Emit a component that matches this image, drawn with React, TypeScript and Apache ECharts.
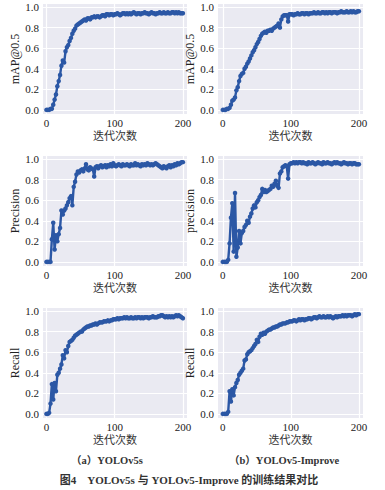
import React, { useEffect, useRef } from "react";
import * as echarts from "echarts";

const epochs: number[] = Array.from({ length: 101 }, (_, i) => i * 2);

const mapA: number[] = [
  0.0, 0.0, 0.0, 0.01, 0.01, 0.05, 0.1, 0.15, 0.23, 0.28, 0.34, 0.43, 0.48, 0.46, 0.57, 0.61, 0.63, 0.67, 0.7, 0.74,
  0.77, 0.79, 0.82, 0.83, 0.84, 0.85, 0.86, 0.87, 0.88, 0.87, 0.89, 0.89, 0.88, 0.9, 0.9, 0.91, 0.9, 0.91, 0.91, 0.9,
  0.91, 0.92, 0.92, 0.91, 0.93, 0.93, 0.92, 0.93, 0.93, 0.92, 0.93,
  0.93, 0.94, 0.93, 0.92, 0.93, 0.94, 0.94, 0.93, 0.94, 0.93, 0.94, 0.93, 0.94, 0.95, 0.94, 0.93, 0.94, 0.94, 0.93, 0.94,
  0.94, 0.95, 0.94, 0.94, 0.93, 0.94, 0.95, 0.94, 0.94, 0.93, 0.94, 0.94, 0.95, 0.94, 0.94, 0.95, 0.94, 0.94, 0.95, 0.94,
  0.94, 0.95, 0.95, 0.94, 0.95, 0.94, 0.95, 0.94, 0.94, 0.94,
];

const mapB: number[] = [
  0.0, 0.0, 0.0, 0.01, 0.01, 0.02, 0.05, 0.09, 0.1, 0.12, 0.19, 0.22, 0.28, 0.33, 0.35, 0.36, 0.4, 0.42, 0.45, 0.47,
  0.5, 0.53, 0.56, 0.58, 0.61, 0.64, 0.66, 0.69, 0.72, 0.74, 0.75, 0.76, 0.75, 0.77, 0.77, 0.78, 0.77, 0.79, 0.8, 0.81,
  0.82, 0.84, 0.8, 0.88, 0.91, 0.92, 0.92, 0.92, 0.86, 0.93, 0.93,
  0.93, 0.92, 0.93, 0.93, 0.94, 0.93, 0.93, 0.94, 0.94, 0.93, 0.94, 0.94, 0.93, 0.94, 0.94, 0.94, 0.95, 0.94, 0.94, 0.95,
  0.94, 0.94, 0.95, 0.95, 0.94, 0.95, 0.94, 0.95, 0.95, 0.94, 0.95, 0.95, 0.95, 0.94, 0.95, 0.95, 0.96, 0.95, 0.95, 0.95,
  0.96, 0.95, 0.95, 0.96, 0.95, 0.96, 0.95, 0.95, 0.96, 0.96,
];

const precA: number[] = [
  0.0, 0.0, 0.0, 0.0, 0.22, 0.38, 0.12, 0.26, 0.2, 0.27, 0.33, 0.5, 0.46, 0.5, 0.52, 0.55, 0.58, 0.62, 0.64, 0.55,
  0.73, 0.78, 0.85, 0.88, 0.87, 0.89, 0.9, 0.88, 0.91, 0.95, 0.9, 0.89, 0.92, 0.91, 0.9, 0.83, 0.92, 0.93, 0.91, 0.93,
  0.94, 0.92, 0.93, 0.94, 0.92, 0.94, 0.93, 0.95, 0.93, 0.96, 0.94,
  0.93, 0.94, 0.95, 0.94, 0.93, 0.95, 0.94, 0.94, 0.95, 0.94, 0.93, 0.95, 0.94, 0.94, 0.96, 0.94, 0.95, 0.94, 0.93, 0.95,
  0.94, 0.95, 0.94, 0.96, 0.95, 0.94, 0.95, 0.94, 0.95, 0.96, 0.95, 0.94, 0.93, 0.92, 0.91, 0.93, 0.92, 0.91, 0.93, 0.94,
  0.92, 0.94, 0.93, 0.95, 0.94, 0.96, 0.95, 0.96, 0.97, 0.97,
];

const precB: number[] = [
  0.0, 0.0, 0.0, 0.0, 0.02, 0.18, 0.43, 0.57, 0.1, 0.67, 0.05, 0.14, 0.3, 0.18, 0.28, 0.3, 0.34, 0.36, 0.4, 0.38,
  0.44, 0.47, 0.52, 0.55, 0.53, 0.58, 0.6, 0.63, 0.65, 0.71, 0.68, 0.7, 0.68, 0.69, 0.7, 0.71, 0.74, 0.73, 0.76, 0.79,
  0.74, 0.72, 0.86, 0.88, 0.92, 0.93, 0.94, 0.93, 0.81, 0.95, 0.96,
  0.96, 0.97, 0.96, 0.97, 0.96, 0.97, 0.97, 0.96, 0.97, 0.96, 0.96, 0.95, 0.97, 0.96, 0.96, 0.97, 0.96, 0.95, 0.96, 0.97,
  0.96, 0.96, 0.95, 0.97, 0.96, 0.96, 0.97, 0.96, 0.96, 0.95, 0.96, 0.97, 0.96, 0.97, 0.96, 0.96, 0.95, 0.96, 0.97, 0.96,
  0.96, 0.95, 0.96, 0.96, 0.95, 0.96, 0.96, 0.95, 0.95, 0.95,
];

const recA: number[] = [
  0.0, 0.0, 0.01, 0.1, 0.29, 0.14, 0.3, 0.22, 0.38, 0.4, 0.44, 0.48, 0.57, 0.54, 0.62, 0.6, 0.66, 0.7, 0.71, 0.72,
  0.74, 0.76, 0.77, 0.78, 0.79, 0.8, 0.8, 0.82, 0.83, 0.84, 0.85, 0.85, 0.86, 0.86, 0.87, 0.87, 0.88, 0.87, 0.88, 0.89,
  0.89, 0.89, 0.9, 0.9, 0.9, 0.91, 0.9, 0.91, 0.91, 0.92, 0.92,
  0.92, 0.93, 0.92, 0.93, 0.93, 0.93, 0.94, 0.93, 0.94, 0.93, 0.93, 0.94, 0.93, 0.93, 0.94, 0.93, 0.94, 0.94, 0.93, 0.94,
  0.93, 0.94, 0.94, 0.94, 0.93, 0.94, 0.94, 0.95, 0.94, 0.94, 0.94, 0.95, 0.95, 0.96, 0.96, 0.95, 0.94, 0.95, 0.94, 0.95,
  0.94, 0.95, 0.94, 0.95, 0.96, 0.95, 0.96, 0.95, 0.94, 0.93,
];

const recB: number[] = [
  0.0, 0.0, 0.0, 0.0, 0.02, 0.22, 0.12, 0.24, 0.18, 0.26, 0.3, 0.33, 0.38, 0.4, 0.42, 0.44, 0.52, 0.53, 0.58, 0.6,
  0.61, 0.62, 0.64, 0.66, 0.68, 0.72, 0.7, 0.75, 0.78, 0.77, 0.79, 0.78, 0.8, 0.81, 0.82, 0.82, 0.83, 0.84, 0.84, 0.85,
  0.85, 0.86, 0.87, 0.87, 0.88, 0.88, 0.88, 0.89, 0.89, 0.9, 0.9,
  0.9, 0.91, 0.91, 0.9, 0.91, 0.92, 0.91, 0.92, 0.92, 0.91, 0.92, 0.92, 0.93, 0.93, 0.92, 0.93, 0.94, 0.94, 0.93, 0.94,
  0.95, 0.94, 0.94, 0.95, 0.94, 0.94, 0.95, 0.94, 0.95, 0.94, 0.93, 0.94, 0.95, 0.94, 0.95, 0.95, 0.95, 0.96, 0.95, 0.96,
  0.95, 0.96, 0.96, 0.96, 0.95, 0.96, 0.97, 0.96, 0.97, 0.97,
];

const xTicks: number[] = [0, 100, 200];
const yTicks: number[] = [0, 0.2, 0.4, 0.6, 0.8, 1.0];
const xName = "迭代次数";
const yNamesA: string[] = ["mAP@0.5", "Precision", "Recall"];
const yNamesB: string[] = ["mAP@0.5", "precision", "Recall"];
const seriesA: number[][] = [mapA, precA, recA];
const seriesB: number[][] = [mapB, precB, recB];
const captionA = "（a）YOLOv5s";
const captionB = "（b）YOLOv5-Improve";
const figTitle = "图4　YOLOv5s 与 YOLOv5-Improve 的训练结果对比";

const SERIF = "'Liberation Serif', 'Noto Sans CJK SC', serif";
const LINE = "#2b57a5";

export default function App() {
  const ref = useRef<HTMLDivElement>(null);
  useEffect(() => {
    document.body.style.margin = "0";
    if (!ref.current) return;
    const chart = echarts.init(ref.current, null, { renderer: "svg" });
    const cols = [
      { left: 43, width: 144, xmin: -5, xmax: 206, names: yNamesA, data: seriesA, nameGap: 16 },
      { left: 218, width: 145, xmin: -7, xmax: 206, names: yNamesB, data: seriesB, nameGap: 14 },
    ];
    const rowsTop = [4, 156, 308];
    const grids: any[] = [];
    const xAxes: any[] = [];
    const yAxes: any[] = [];
    const series: any[] = [];
    let idx = 0;
    rowsTop.forEach((top, r) => {
      cols.forEach((c) => {
        grids.push({
          left: c.left,
          top,
          width: c.width,
          height: 110,
          show: true,
          backgroundColor: "#eaeaf2",
          borderWidth: 0,
        });
        xAxes.push({
          type: "value",
          gridIndex: idx,
          min: c.xmin,
          max: c.xmax,
          name: xName,
          nameLocation: "middle",
          nameGap: 15,
          nameTextStyle: {
            fontFamily: "'Noto Sans CJK SC', sans-serif",
            fontSize: 11,
            lineHeight: 12,
            color: "#333",
          },
          axisLine: { show: false },
          axisTick: { show: false, customValues: xTicks },
          axisLabel: {
            customValues: xTicks,
            margin: 3,
            fontFamily: SERIF,
            fontSize: 11,
            lineHeight: 11,
            color: "#222",
          },
          splitLine: { show: true, lineStyle: { color: "#ffffff", width: 1.2 } },
        });
        yAxes.push({
          type: "value",
          gridIndex: idx,
          min: -0.04,
          max: 1.03,
          name: c.names[r],
          nameLocation: "middle",
          nameGap: c.nameGap + 6,
          nameRotate: 90,
          nameTextStyle: { fontFamily: SERIF, fontSize: 12, color: "#222" },
          axisLine: { show: false },
          axisTick: { show: false, customValues: yTicks },
          axisLabel: {
            customValues: yTicks,
            margin: 4,
            fontFamily: SERIF,
            fontSize: 11,
            color: "#222",
            formatter: (v: number) => v.toFixed(1),
          },
          splitLine: { show: true, lineStyle: { color: "#ffffff", width: 1.2 } },
        });
        const vals = c.data[r];
        series.push({
          type: "line",
          xAxisIndex: idx,
          yAxisIndex: idx,
          data: epochs.map((e, i) => [e, vals[i]]),
          symbol: "circle",
          symbolSize: 4.5,
          showSymbol: true,
          lineStyle: { color: LINE, width: 2.4 },
          itemStyle: { color: LINE },
          z: 3,
        });
        idx++;
      });
    });
    chart.setOption({
      animation: false,
      grid: grids,
      xAxis: xAxes,
      yAxis: yAxes,
      series,
      graphic: [
        {
          type: "text",
          left: 71,
          top: 455,
          style: { text: captionA, font: `bold 10.5px ${SERIF}`, fill: "#333" },
        },
        {
          type: "text",
          left: 229,
          top: 455,
          style: { text: captionB, font: `bold 10.5px ${SERIF}`, fill: "#333" },
        },
        {
          type: "text",
          x: 189,
          y: 480,
          style: {
            text: figTitle,
            font: `bold 11px ${SERIF}`,
            fill: "#333",
            align: "center",
            verticalAlign: "middle",
          },
        },
      ],
    });
    return () => chart.dispose();
  }, []);
  return <div ref={ref} style={{ width: 385, height: 490 }} />;
}
